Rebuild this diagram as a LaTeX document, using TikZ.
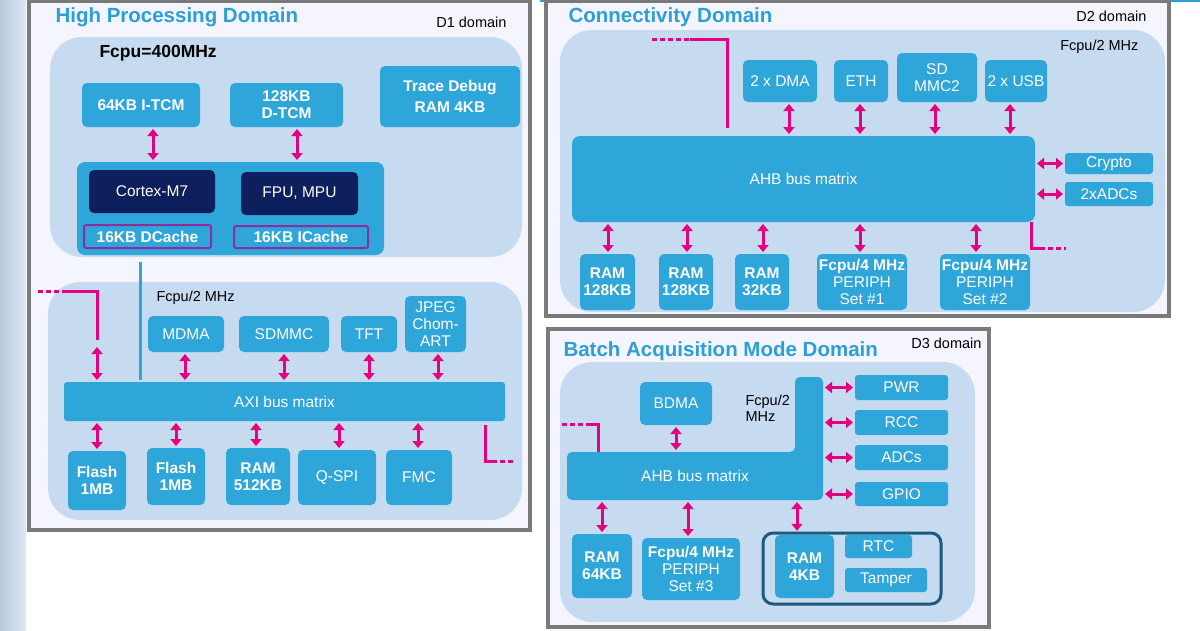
\documentclass[tikz,border=0pt]{standalone}
\usepackage{fontspec}
\setmainfont{Liberation Sans}
\usetikzlibrary{arrows.meta}
\definecolor{pnl}{HTML}{C6DAF0}
\definecolor{cy}{HTML}{2EA6DA}
\definecolor{dk}{HTML}{0D1F5C}
\definecolor{mg}{HTML}{E5007E}
\definecolor{pu}{HTML}{8E2E9E}
\definecolor{tt}{HTML}{2C9FD7}
\definecolor{fr}{HTML}{7A7A7A}
\definecolor{tl}{HTML}{1C5A7E}
\newcommand\bx[7][]{\node[box,#1, minimum width={(#4-#2)*1pt}, minimum height={(#5-#3)*1pt}] (#7) at ({(#2+#4)/2},{(#3+#5)/2}) {#6};}
\begin{document}
\begin{tikzpicture}[x=1pt,y=-1pt,
 box/.style={fill=cy,rounded corners=5pt,text=white,align=center,inner sep=0pt,outer sep=0pt,font=\fontsize{15.5}{17}\selectfont},
 bb/.style={font=\fontsize{15.5}{17}\selectfont\bfseries},
 dkb/.style={fill=dk},
 cache/.style={draw=pu,line width=2pt,rounded corners=2pt,font=\fontsize{15.5}{17}\selectfont\bfseries},
 frame/.style={draw=fr,line width=3.5pt,fill=white!96!blue},
 panel/.style={fill=pnl,rounded corners=32pt},
 arr/.style={draw=mg,line width=3pt,{Triangle[width=11pt,length=7pt]}-{Triangle[width=11pt,length=7pt]},shorten <=2pt,shorten >=2pt},
 mline/.style={draw=mg,line width=3pt},
 mdot/.style={draw=mg,line width=3pt,dash pattern=on 5pt off 3pt},
 title/.style={text=tt,font=\fontsize{20.5}{22}\selectfont\bfseries,anchor=west},
 dom/.style={font=\fontsize{14.5}{16}\selectfont,anchor=east},
 lbl/.style={font=\fontsize{14.5}{16}\selectfont,anchor=west,align=left}]
\useasboundingbox (0,0) rectangle (1200,630);
\fill[white] (0,0) rectangle (1200,630);
\fill[left color=pnl!80!gray,right color=pnl!60] (0,0) rectangle (26,630);
\fill[tt] (540,0) rectangle (1200,2);
% ================= D1
\draw[frame] (29,1) rectangle (530,530);
\node[title] at (52,17) {High Processing Domain};
\node[dom] at (510,22) {D1 domain};
\fill[panel] (50,37) rectangle (522,257);
\node[anchor=west,font=\fontsize{17.5}{19}\selectfont\bfseries] at (96,53) {Fcpu=400MHz};
\bx[bb]{82}{83}{200}{127}{64KB I-TCM}{itcm}
\bx[bb]{230}{83}{343}{127}{128KB\\D-TCM}{dtcm}
\bx[bb]{380}{66}{520}{127}{Trace Debug\\[4pt]RAM 4KB}{trace}
\bx[rounded corners=8pt]{77}{162}{384}{255}{}{core}
\bx[dkb,rounded corners=5pt,font=\fontsize{15.5}{17}\selectfont]{89}{170}{215}{213}{Cortex-M7}{m7}
\bx[dkb,rounded corners=5pt,font=\fontsize{15.5}{17}\selectfont]{241}{172}{358}{215}{FPU, MPU}{fpu}
\bx[cache]{84}{225}{211}{248}{16KB DCache}{dc}
\bx[cache]{234}{226}{368}{248}{16KB ICache}{ic}
\coordinate (ia) at (153,127); \coordinate (da) at (297,127);
\draw[arr] (ia) -- (ia |- core.north);
\draw[arr] (da) -- (da |- core.north);
\fill[panel] (48,282) rectangle (522,520);
\draw[cy,line width=3pt] (140,262) -- (140,380);
\node[lbl] at (153,298) {Fcpu/2 MHz};
\bx{148}{316}{224}{352}{MDMA}{mdma}
\bx{239}{316}{329}{352}{SDMMC}{sdmmc}
\bx{341}{316}{397}{352}{TFT}{tft}
\bx{405}{296}{466}{352}{JPEG\\Chom-\\ART}{jpeg}
\bx[rounded corners=3pt]{64}{382}{505}{421}{AXI bus matrix}{axi}
\coordinate (a1) at (185,352); \coordinate (a2) at (284,352); \coordinate (a3) at (369,352); \coordinate (a4) at (438,352);
\foreach \c in {a1,a2,a3,a4} \draw[arr] (\c) -- (\c |- axi.north);
\coordinate (p1) at (38,291); \coordinate (p2) at (66,291); \coordinate (p3) at (97,291); \coordinate (p4) at (97,340);
\draw[mdot] (p1) -- (p2);
\draw[mline] (p2) -- (p3) -- (p4);
\draw[arr] (97,345) -- (axi.north -| p4);
\bx[bb]{68}{451}{126}{510}{Flash\\1MB}{f1}
\bx[bb]{147}{448}{205}{505}{Flash\\1MB}{f2}
\bx[bb]{226}{448}{290}{505}{RAM\\512KB}{r512}
\bx{298}{450}{376}{505}{Q-SPI}{qspi}
\bx{386}{450}{452}{505}{FMC}{fmc}
\coordinate (b1) at (97,421); \coordinate (b2) at (176,421); \coordinate (b3) at (256,421); \coordinate (b4) at (339,421); \coordinate (b5) at (418,421);
\foreach \c/\d in {b1/f1,b2/f2,b3/r512,b4/qspi,b5/fmc} \draw[arr] (\c) -- (\c |- \d.north);
\coordinate (q1) at (485,425); \coordinate (q2) at (485,461); \coordinate (q3) at (492,461); \coordinate (q4) at (515,461);
\draw[mline] (q1) -- (q2) -- (q3);
\draw[mdot] (q3) -- (q4);
% ================= D2
\draw[frame] (546,1) rectangle (1169,316);
\node[title] at (565,17) {Connectivity Domain};
\node[dom] at (1150,16) {D2 domain};
\fill[panel] (560,30) rectangle (1165,312);
\node[dom] at (1142,47) {Fcpu/2 MHz};
\bx{743}{60}{817}{102}{2 x DMA}{dma}
\bx{834}{60}{888}{102}{ETH}{eth}
\bx{897}{53}{977}{102}{SD\\MMC2}{sd}
\bx{985}{60}{1047}{102}{2 x USB}{usb}
\bx[rounded corners=8pt]{572}{136}{1035}{222}{AHB bus matrix}{ahb2}
\coordinate (c1) at (789,102); \coordinate (c2) at (860,102); \coordinate (c3) at (935,102); \coordinate (c4) at (1010,102);
\foreach \c in {c1,c2,c3,c4} \draw[arr] (\c) -- (\c |- ahb2.north);
\coordinate (s1) at (652,39); \coordinate (s2) at (690,39); \coordinate (s3) at (727,39); \coordinate (s4) at (727,128);
\draw[mdot] (s1) -- (s2); \draw[mline] (s2) -- (s3) -- (s4);
\bx[rounded corners=3pt]{1065}{153}{1153}{174}{Crypto}{crypto}
\bx[rounded corners=3pt]{1065}{182}{1153}{206}{2xADCs}{adcs2}
\draw[arr] (ahb2.east |- crypto) -- (crypto.west);
\draw[arr] (ahb2.east |- adcs2) -- (adcs2.west);
\coordinate (t1) at (1031,222); \coordinate (t2) at (1031,248); \coordinate (t3) at (1040,248); \coordinate (t4) at (1066,248);
\draw[mline] (t1) -- (t2) -- (t3); \draw[mdot] (t3) -- (t4);
\bx[bb]{580}{254}{635}{310}{RAM\\128KB}{e1}
\bx[bb]{659}{254}{713}{310}{RAM\\128KB}{e2}
\bx[bb]{735}{254}{789}{310}{RAM\\32KB}{e3}
\bx{817}{254}{907}{310}{\textbf{Fcpu/4 MHz}\\PERIPH\\Set \#1}{e4}
\bx{940}{254}{1030}{310}{\textbf{Fcpu/4 MHz}\\PERIPH\\Set \#2}{e5}
\coordinate (d1) at (608,222); \coordinate (d2) at (687,222); \coordinate (d3) at (763,222); \coordinate (d4) at (860,222); \coordinate (d5) at (976,222);
\foreach \c/\d in {d1/e1,d2/e2,d3/e3,d4/e4,d5/e5} \draw[arr] (\c) -- (\c |- \d.north);
% ================= D3
\draw[frame] (548,329) rectangle (989,627);
\node[title] at (560,351) {Batch Acquisition Mode Domain};
\node[dom] at (985,343) {D3 domain};
\fill[panel] (560,362) rectangle (975,622);
\bx{640}{382}{712}{425}{BDMA}{bdma}
\node[lbl] at (742,408) {Fcpu/2\\MHz};
\fill[cy,rounded corners=5pt] (567,452) -- (795,452) -- (795,377) -- (823,377) -- (823,500) -- (567,500) -- cycle;
\node[text=white,font=\fontsize{15.5}{17}\selectfont] (ahb3) at (695,476) {AHB bus matrix};
\coordinate (ahbtop) at (676,452); \coordinate (ahbr) at (823,440);
\draw[arr] (bdma.south) -- (ahbtop);
\bx[rounded corners=3pt]{855}{375}{948}{400}{PWR}{pwr}
\bx[rounded corners=3pt]{855}{410}{948}{435}{RCC}{rcc}
\bx[rounded corners=3pt]{855}{445}{948}{470}{ADCs}{adc3}
\bx[rounded corners=3pt]{855}{482}{948}{506}{GPIO}{gpio}
\foreach \d in {pwr,rcc,adc3,gpio} \draw[arr] (ahbr |- \d.west) -- (\d.west);
\coordinate (u1) at (562,424); \coordinate (u2) at (590,424); \coordinate (u3) at (598,424); \coordinate (u4) at (598,452);
\draw[mdot] (u1) -- (u2); \draw[mline] (u2) -- (u3) -- (u4);
\bx[bb]{572}{534}{632}{598}{RAM\\64KB}{g1}
\bx{642}{538}{740}{600}{\textbf{Fcpu/4 MHz}\\PERIPH\\Set \#3}{g2}
\draw[tl,line width=3pt,rounded corners=10pt] (763,533) rectangle (941,604);
\node[minimum width=178pt,minimum height=71pt,inner sep=0pt] (grp) at (852,568.5) {};
\bx[bb]{775}{535}{834}{598}{RAM\\4KB}{g3}
\bx[rounded corners=3pt]{845}{535}{912}{558}{RTC}{rtc}
\bx[rounded corners=3pt]{845}{568}{927}{592}{Tamper}{tamp}
\coordinate (h1) at (602,500); \coordinate (h2) at (688,500); \coordinate (h3) at (797,500);
\draw[arr] (h1) -- (h1 |- g1.north);
\draw[arr] (h2) -- (h2 |- g2.north);
\draw[arr] (h3) -- (h3 |- grp.north);
\end{tikzpicture}
\end{document}
